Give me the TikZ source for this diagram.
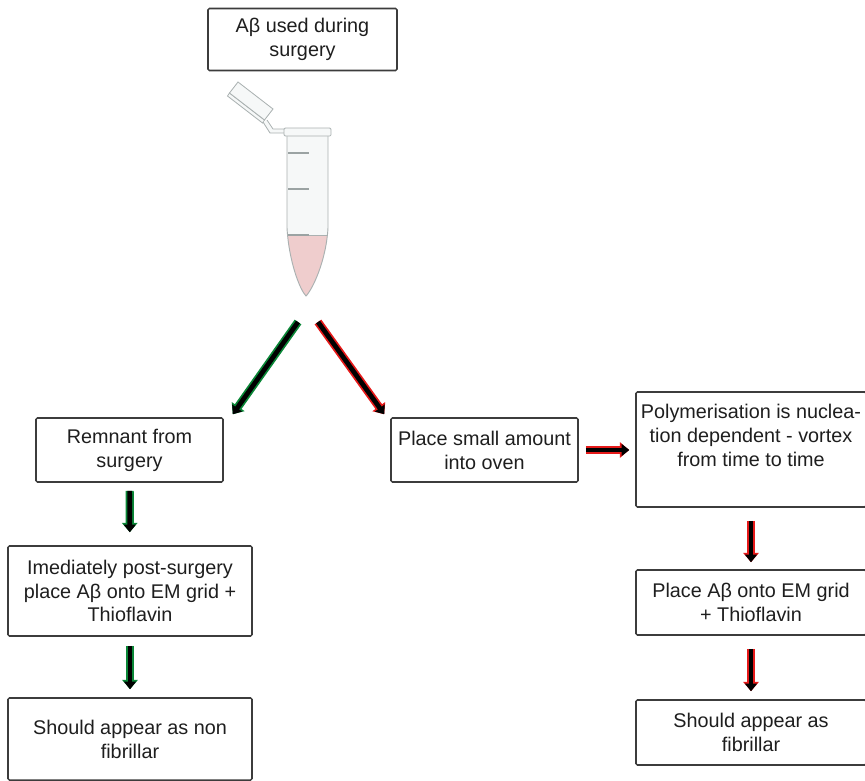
\documentclass[tikz,border=0pt]{standalone}
\usepackage{fontspec}
\setmainfont{Liberation Sans}
\usetikzlibrary{arrows.meta,calc,positioning}
\definecolor{BoxGray}{RGB}{60,60,60}
\definecolor{TextGray}{RGB}{30,30,30}
\definecolor{PathGreen}{RGB}{10,135,55}
\definecolor{PathRed}{RGB}{230,25,25}
\definecolor{TubeLine}{RGB}{170,177,177}
\definecolor{TubeFill}{RGB}{246,248,248}
\definecolor{TubeMark}{RGB}{155,163,163}
\definecolor{Sample}{RGB}{239,205,205}
\tikzset{
  stepbox/.style={draw=BoxGray,line width=1.3pt,rounded corners=1.2pt,align=center,text=TextGray,inner sep=2pt},
  flow/.style={line width=4pt,black,-{Triangle[length=6.5pt,width=10pt]},
    preaction={draw,#1,line width=7pt,-{Triangle[length=8pt,width=13pt]}}},
}

\begin{document}
\begin{tikzpicture}[x=0.03cm,y=-0.03cm,font=\fontsize{16.9}{20.4}\selectfont]
      \useasboundingbox (0,0) rectangle (865,780);
      \clip (0,0) rectangle (865,780);

      \node[stepbox,minimum width=5.67cm,minimum height=1.86cm] (used) at (302.5,39.5) {Aβ used during\\surgery};

      % tube with open lid
      \draw[TubeLine,fill=TubeFill,line width=0.7pt] (227.5,96) -- (229.5,93) -- (264.5,120) -- (262.5,123) -- cycle;
      \draw[TubeLine,fill=TubeFill,line width=0.7pt] (229.5,93) -- (238,82) -- (273,109) -- (264.5,120) -- cycle;
      \draw[TubeLine,fill=TubeFill,line width=0.7pt] (263,122) -- (270,133) -- (286,133) -- (286,129) -- (273,129) -- (267,120);
      \begin{scope}
        \clip (287,135) -- (287,228) .. controls (289,262) and (300,290) .. (306,296) .. controls (312,290) and (326,262) .. (328,228) -- (328,135) -- cycle;
        \fill[TubeFill] (280,130) rectangle (335,235);
        \fill[Sample] (280,235) rectangle (335,300);
        \draw[TubeLine] (280,235) -- (335,235);
      \end{scope}
      \draw[TubeLine,line width=0.8pt] (287,135) -- (287,228) .. controls (289,262) and (300,290) .. (306,296) .. controls (312,290) and (326,262) .. (328,228) -- (328,135);
      \foreach \y in {153,189,235}
        \draw[TubeMark,line width=1.2pt] (288,\y) -- (309,\y);
      \draw[TubeLine,fill=TubeFill,line width=0.7pt,rounded corners=1pt] (284,128) rectangle (331,136);
      \coordinate (gfrom) at (298,322);
      \coordinate (rfrom) at (318,322);

      \node[stepbox,minimum width=5.61cm,minimum height=1.92cm] (remnant) at (129.5,450) {Remnant from\\surgery};
      \node[stepbox,minimum width=5.61cm,minimum height=1.92cm] (oven) at (484.5,450) {Place small amount\\into oven};
      \node[stepbox,minimum width=6.9cm,minimum height=3.45cm,text depth=24.6pt] (poly) at (751,449.5) {Polymerisation is nuclea-\\tion dependent - vortex\\from time to time};
      \node[stepbox,minimum width=7.32cm,minimum height=2.7cm] (postsurg) at (130,591) {Imediately post-surgery\\place Aβ onto EM grid +\\Thioflavin};
      \node[stepbox,minimum width=7.32cm,minimum height=2.46cm] (nonfib) at (130,739) {Should appear as non\\fibrillar};
      \node[stepbox,minimum width=6.9cm,minimum height=1.95cm] (emgrid) at (751,602.5) {Place Aβ onto EM grid\\+ Thioflavin};
      \node[stepbox,minimum width=6.9cm,minimum height=1.95cm] (fib) at (751,732.5) {Should appear as\\fibrillar};

      \draw[flow=PathGreen] (gfrom) -- ($(remnant.north east)+(9,-3)$);
      \draw[flow=PathRed] (rfrom) -- ($(oven.north west)+(-6,-3)$);
      \draw[flow=PathRed,shorten <=0.21cm,shorten >=0.18cm] (oven.east) -- (oven.east -| poly.west);
      \draw[flow=PathGreen,shorten <=0.24cm,shorten >=0.39cm] (remnant) -- (postsurg);
      \draw[flow=PathGreen,shorten <=0.27cm,shorten >=0.24cm] (postsurg) -- (nonfib);
      \draw[flow=PathRed,shorten <=0.39cm,shorten >=0.21cm] (poly.south -| emgrid.north) -- (emgrid.north);
      \draw[flow=PathRed,shorten <=0.39cm,shorten >=0.24cm] (emgrid) -- (fib);
    \end{tikzpicture}
\end{document}
